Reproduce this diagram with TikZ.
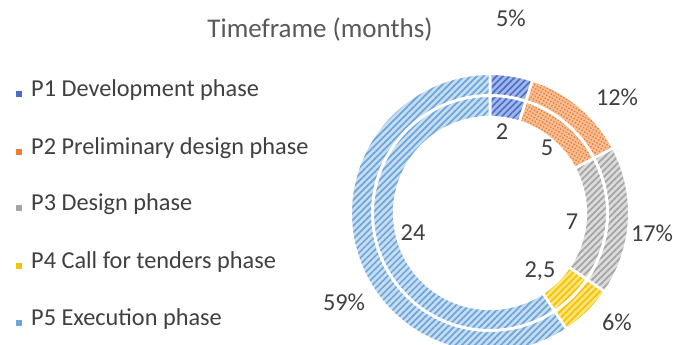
\documentclass[tikz,border=0pt]{standalone}
\usepackage{fontspec}
\setmainfont{Carlito}
\usetikzlibrary{patterns.meta}

% phase colours: light fill and darker hatch
\definecolor{pAbg}{HTML}{A3B8EA}\definecolor{pAfg}{HTML}{4A6FC8}
\definecolor{pBbg}{HTML}{F7BE95}\definecolor{pBfg}{HTML}{ED7D31}
\definecolor{pCbg}{HTML}{DCDCDC}\definecolor{pCfg}{HTML}{A5A5A5}
\definecolor{pDbg}{HTML}{FFE57A}\definecolor{pDfg}{HTML}{F5C20A}
\definecolor{pEbg}{HTML}{C6DDF2}\definecolor{pEfg}{HTML}{6FA6DA}
\definecolor{txt}{HTML}{404040}
\definecolor{ttl}{HTML}{595959}

\tikzset{
  lbl/.style={font=\fontsize{24.3}{27}\selectfont, text=txt, inner sep=0pt},
  ttlstyle/.style={font=\fontsize{27}{30}\selectfont, text=ttl, inner sep=0pt},
  legtxt/.style={lbl, anchor=mid west},
  legbox/.style={minimum size=6pt, inner sep=0pt},
  hatch/.style={pattern={Lines[angle=45,distance=4.6pt,line width=1.7pt]}},
  dotgrid/.style={pattern={Dots[distance=3.2pt,radius=1pt,angle=60]}},
  segline/.style={draw=white, line width=2.6pt},
}

% annular sector: start angle, end angle, inner radius, outer radius, bg, fg, pattern style
\newcommand\ringpiece[7]{%
  \path[preaction={fill=#5}, #7, pattern color=#6, segline]
    (#1:#4) arc[start angle=#1, end angle=#2, radius=#4]
    -- (#2:#3) arc[start angle=#2, end angle=#1, radius=#3] -- cycle;%
}

\begin{document}
\begin{tikzpicture}[x=1pt,y=1pt]
\useasboundingbox (0,0) rectangle (673,345);
\clip (0,0) rectangle (673,345);
\fill[white] (0,0) rectangle (673,345);

\node[ttlstyle] (title) at (320,315) {Timeframe (months)};

% legend
\node[legbox, fill=pAfg] (kA) at (19,251) {};
\node[legbox, fill=pBfg] (kB) at (19,193) {};
\node[legbox, fill=pCfg] (kC) at (19,137) {};
\node[legbox, fill=pDfg] (kD) at (19,79) {};
\node[legbox, fill=pEfg] (kE) at (19,22) {};
\node[legtxt] (tA) at (31,251) {P1 Development phase};
\node[legtxt] (tB) at (31,193) {P2 Preliminary design phase};
\node[legtxt] (tC) at (31,137) {P3 Design phase};
\node[legtxt] (tD) at (31,79) {P4 Call for tenders phase};
\node[legtxt] (tE) at (31,22) {P5 Execution phase};

% two rings, clockwise from the top: 2, 5, 7, 2.5, 24 months
\begin{scope}[shift={(490,132)}]
  \foreach \ri/\ro in {95.8pt/117.3pt, 117.7pt/139.3pt} {
    \ringpiece{90}{72.222}{\ri}{\ro}{pAbg}{pAfg}{hatch}
    \ringpiece{72.222}{27.778}{\ri}{\ro}{pBbg}{pBfg}{dotgrid}
    \ringpiece{27.778}{-34.444}{\ri}{\ro}{pCbg}{pCfg}{hatch}
    \ringpiece{-34.444}{-56.667}{\ri}{\ro}{pDbg}{pDfg}{hatch}
    \ringpiece{-56.667}{-270}{\ri}{\ro}{pEbg}{pEfg}{hatch}
  }
\end{scope}

% inner ring values
\node[lbl] (vA) at (502,213) {2};
\node[lbl] (vB) at (547,197) {5};
\node[lbl] (vC) at (572,123) {7};
\node[lbl] (vD) at (540,74) {2,5};
\node[lbl] (vE) at (413,112) {24};

% outer ring shares
\node[lbl] (sA) at (511,327) {5\%};
\node[lbl] (sB) at (617,248) {12\%};
\node[lbl] (sC) at (652,112) {17\%};
\node[lbl] (sD) at (617,23) {6\%};
\node[lbl] (sE) at (344,43) {59\%};
\end{tikzpicture}
\end{document}
